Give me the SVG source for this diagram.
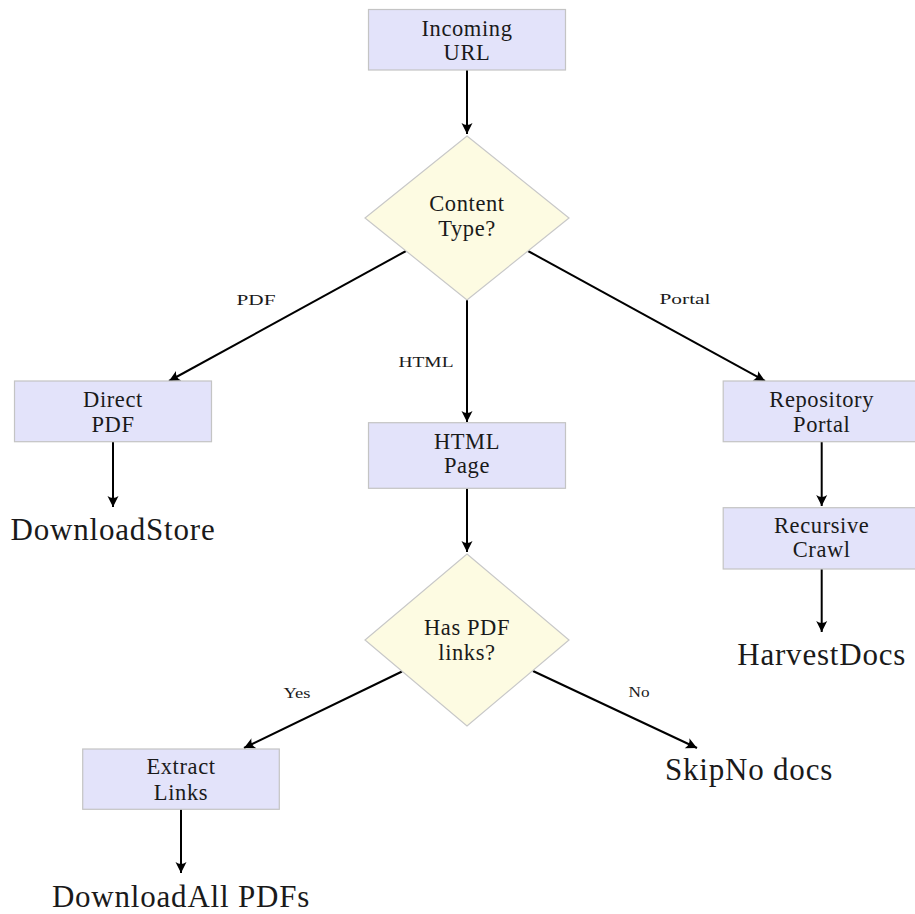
<svg xmlns="http://www.w3.org/2000/svg" width="915" height="914" viewBox="0 0 915 914">
  <style>
    .box { fill: #e3e3fa; stroke: #c4c4c4; stroke-width: 1.2; }
    .dec { fill: #fdfbe2; stroke: #c8c8c8; stroke-width: 1.2; }
    text { font-family: "Liberation Serif", "DejaVu Serif", serif; fill: #1a1a1a; text-anchor: middle; }
    .txt { font-size: 22.5px; letter-spacing: 0.6px; }
    .term { font-size: 31px; letter-spacing: 0.8px; }
    .lbl { font-size: 15.5px; }
    .edge { stroke: #000; stroke-width: 2; fill: none; marker-end: url(#tip); }
  </style>
  <defs>
    <marker id="tip" markerUnits="userSpaceOnUse" viewBox="-12 -7 14 14" refX="0" refY="0" markerWidth="14" markerHeight="14" orient="auto">
      <path d="M0,0 L-11,-5.5 Q-7,0 -11,5.5 Z" fill="#000"/>
    </marker>
  </defs>

  <rect width="915" height="914" fill="#ffffff"/>

  <!-- connectors -->
  <g id="edges">
    <line class="edge" x1="467" y1="70" x2="467" y2="134"/>
    <line class="edge" x1="406" y1="251" x2="169" y2="381"/>
    <line class="edge" x1="467" y1="300" x2="467" y2="422"/>
    <line class="edge" x1="528" y1="251" x2="765" y2="381"/>
    <line class="edge" x1="113" y1="442" x2="113" y2="507"/>
    <line class="edge" x1="467" y1="488" x2="467" y2="552"/>
    <line class="edge" x1="821.7" y1="442" x2="821.7" y2="506"/>
    <line class="edge" x1="821.7" y1="569" x2="821.7" y2="632"/>
    <line class="edge" x1="402" y1="671.5" x2="244" y2="748"/>
    <line class="edge" x1="533" y1="671" x2="697" y2="748"/>
    <line class="edge" x1="181" y1="809" x2="181" y2="873"/>

    <text class="lbl" x="256" y="305" textLength="39" lengthAdjust="spacingAndGlyphs">PDF</text>
    <text class="lbl" x="426" y="367" textLength="55" lengthAdjust="spacingAndGlyphs">HTML</text>
    <text class="lbl" x="685" y="304" textLength="51" lengthAdjust="spacingAndGlyphs">Portal</text>
    <text class="lbl" x="297" y="698" textLength="27" lengthAdjust="spacingAndGlyphs">Yes</text>
    <text class="lbl" x="639" y="697" textLength="21" lengthAdjust="spacingAndGlyphs">No</text>
  </g>

  <g id="incoming">
    <rect class="box" x="368.5" y="9.5" width="197" height="60.5"/>
    <text class="txt" x="467" y="36">Incoming</text>
    <text class="txt" x="467" y="60">URL</text>
  </g>

  <g id="content-type">
    <polygon class="dec" points="467,136 569,218 467,300 365,218"/>
    <text class="txt" x="467" y="211">Content</text>
    <text class="txt" x="467" y="236">Type?</text>
  </g>

  <g id="direct-pdf">
    <rect class="box" x="14.5" y="381" width="197" height="60.7"/>
    <text class="txt" x="113" y="407.3">Direct</text>
    <text class="txt" x="113" y="431.7">PDF</text>
  </g>

  <g id="download-store">
    <text class="term" x="113" y="540">DownloadStore</text>
  </g>

  <g id="html-page">
    <rect class="box" x="368.5" y="422.7" width="197" height="65.6"/>
    <text class="txt" x="467" y="448.5">HTML</text>
    <text class="txt" x="467" y="473.3">Page</text>
  </g>

  <g id="repository-portal">
    <rect class="box" x="723.2" y="381" width="197" height="60.7"/>
    <text class="txt" x="821.7" y="407.3">Repository</text>
    <text class="txt" x="821.7" y="431.7">Portal</text>
  </g>

  <g id="recursive-crawl">
    <rect class="box" x="723.2" y="507.7" width="197" height="61.3"/>
    <text class="txt" x="821.7" y="533.3">Recursive</text>
    <text class="txt" x="821.7" y="557.3">Crawl</text>
  </g>

  <g id="harvest-docs">
    <text class="term" x="821.7" y="665">HarvestDocs</text>
  </g>

  <g id="has-pdf-links">
    <polygon class="dec" points="467,554 569,640 467,726 365,640"/>
    <text class="txt" x="467" y="635">Has PDF</text>
    <text class="txt" x="467" y="660">links?</text>
  </g>

  <g id="extract-links">
    <rect class="box" x="82.7" y="749" width="196.6" height="60.3"/>
    <text class="txt" x="181" y="774.3">Extract</text>
    <text class="txt" x="181" y="800">Links</text>
  </g>

  <g id="download-all">
    <text class="term" x="181" y="906.7">DownloadAll PDFs</text>
  </g>

  <g id="skip">
    <text class="term" x="749" y="780">SkipNo docs</text>
  </g>
</svg>
